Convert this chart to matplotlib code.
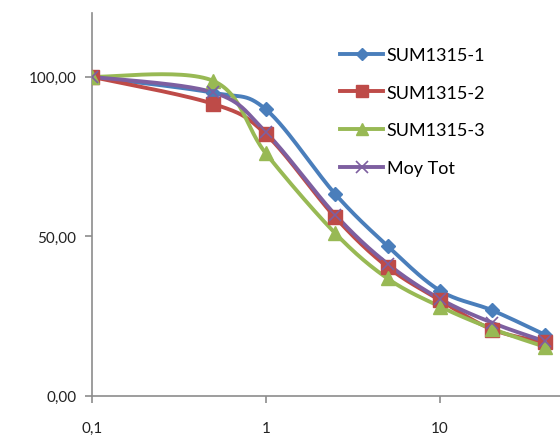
import numpy as np
import matplotlib
matplotlib.use("Agg")
import matplotlib.pyplot as plt
from matplotlib.lines import Line2D
from matplotlib.ticker import FixedLocator, NullLocator, FixedFormatter

# donnees
doses = [0.1, 0.5, 1, 2.5, 5, 10, 20, 40]
sum1 = [100, 95.0, 89.8, 63.3, 47.0, 33.0, 26.8, 19.2]
sum2 = [100, 91.5, 82.0, 56.0, 40.4, 30.0, 20.8, 16.8]
sum3 = [100, 98.7, 76.0, 51.0, 36.8, 28.0, 21.0, 15.4]
moy = [100, 95.1, 82.6, 56.8, 41.4, 30.4, 22.9, 17.1]
noms = ["SUM1315-1", "SUM1315-2", "SUM1315-3", "Moy Tot"]
couleurs = ["#4A7EBB", "#BE4B48", "#98B954", "#7D5FA0"]
marqueurs = ["D", "s", "^", "x"]
tailles = [7, 10, 10, 9]

plt.rcParams['font.family'] = ['Lato', 'DejaVu Sans']


def lisser(x, y, n=30):
    """Courbe lissee type Excel (Catmull-Rom) en echelle log pour x."""
    lx = np.log10(x)
    y = np.asarray(y, float)
    P = np.column_stack([lx, y])
    P = np.vstack([P[0], P, P[-1]])
    xs, ys = [], []
    for i in range(1, len(P) - 2):
        p0, p1, p2, p3 = P[i - 1], P[i], P[i + 1], P[i + 2]
        c1 = p1 + (p2 - p0) / 6
        c2 = p2 - (p3 - p1) / 6
        t = np.linspace(0, 1, n)[:, None]
        b = ((1 - t) ** 3) * p1 + 3 * ((1 - t) ** 2) * t * c1 + 3 * (1 - t) * t ** 2 * c2 + t ** 3 * p2
        xs.append(b[:, 0])
        ys.append(b[:, 1])
    return 10 ** np.concatenate(xs), np.concatenate(ys)


fig = plt.figure(figsize=(5.6, 4.39), dpi=100)
ax = fig.add_axes([0.164, 0.096, 0.836, 0.872])

handles = []
for serie, nom, c, m, ms in zip([sum1, sum2, sum3, moy], noms, couleurs, marqueurs, tailles):
    xs, ys = lisser(doses, serie)
    ax.plot(xs, ys, color=c, lw=2.8, solid_capstyle='round', zorder=2)
    if m == "x":
        ax.plot(doses, serie, ls='none', marker=m, ms=ms, mec=c, mew=1.2, zorder=3)
    else:
        ax.plot(doses, serie, ls='none', marker=m, ms=ms, mfc=c, mec=c, zorder=3)
    handles.append(Line2D([], [], color=c, lw=2.8, marker=m, ms=ms * 0.9, mfc=c, mec=c,
                          mew=1.2 if m == "x" else 1))

ax.set_xscale('log')
ax.set_xlim(0.1, 49)
ax.set_ylim(0, 120)

ax.xaxis.set_major_locator(FixedLocator([0.1, 1, 10]))
ax.xaxis.set_major_formatter(FixedFormatter(["0,1", "1", "10"]))
ax.xaxis.set_minor_locator(NullLocator())
ax.set_yticks([0, 50, 100])
ax.set_yticklabels(["0,00", "50,00", "100,00"])

for s in ['top', 'right']:
    ax.spines[s].set_visible(False)
for s in ['left', 'bottom']:
    ax.spines[s].set_color('#8C8C8C')
    ax.spines[s].set_linewidth(1.2)
ax.tick_params(axis='both', colors='#8C8C8C', labelcolor='#222222', labelsize=11,
               direction='out', length=5, width=1.2)
ax.tick_params(axis='x', pad=13)
ax.tick_params(axis='y', pad=6)

ax.legend(handles=handles, labels=noms, loc='upper left', bbox_to_anchor=(0.607, 0.891),
          bbox_transform=fig.transFigure, frameon=False, fontsize=13, handlelength=2.4,
          handletextpad=0.2, labelspacing=1.2, borderpad=0, borderaxespad=0)

fig.savefig("out.png", dpi=100)
